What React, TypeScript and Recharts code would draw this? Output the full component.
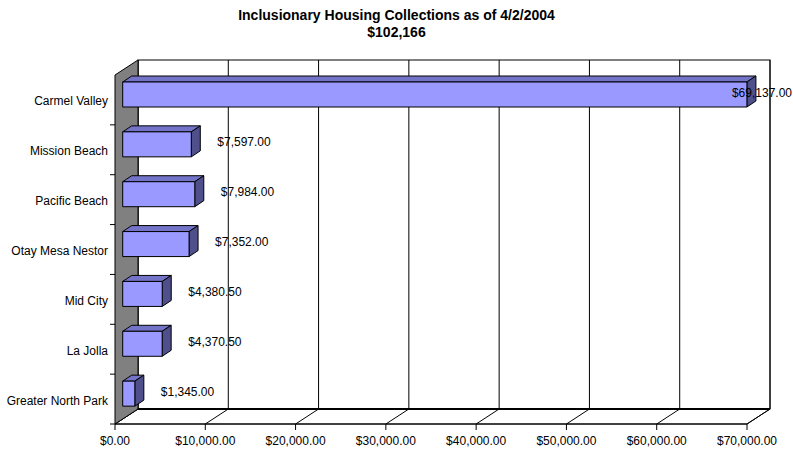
import { Bar, BarChart, CartesianGrid, LabelList, XAxis, YAxis } from "recharts";

const districts = [
  "Carmel Valley",
  "Mission Beach",
  "Pacific Beach",
  "Otay Mesa Nestor",
  "Mid City",
  "La Jolla",
  "Greater North Park",
];
const collections = [69137, 7597, 7984, 7352, 4380.5, 4370.5, 1345];
const xTicks = [0, 10000, 20000, 30000, 40000, 50000, 60000, 70000];

const data = districts.map((name, i) => ({ name, amount: collections[i] }));

const W = 793;
const H = 450;
const margin = { top: 75, right: 46, bottom: 6, left: 8 };
const Y_AXIS_W = 107;
const X_AXIS_H = 20;
// plot box (front plane)
const L = margin.left + Y_AXIS_W;
const R = W - margin.right;
const T = margin.top;
const B = H - margin.bottom - X_AXIS_H;
// depth of the 3d box
const DX = 23;
const DY = -15;
// bar placement inside the depth
const FX = 7.7;
const FY = -5;
const BDX = 9;
const BDY = -6;

const FONT = "'Liberation Sans', Arial, sans-serif";

const money = (v: number) =>
  "$" + v.toLocaleString("en-US", { minimumFractionDigits: 2, maximumFractionDigits: 2 });

function Bar3D(props: any) {
  const { x, y, width, height } = props;
  const x0 = x + FX;
  const y0 = y + FY;
  const x1 = x0 + width;
  return (
    <g stroke="#000" strokeWidth={1} strokeLinejoin="round">
      <polygon
        points={`${x0},${y0} ${x0 + BDX},${y0 + BDY} ${x1 + BDX},${y0 + BDY} ${x1},${y0}`}
        fill="#7373C8"
      />
      <polygon
        points={`${x1},${y0} ${x1 + BDX},${y0 + BDY} ${x1 + BDX},${y0 + BDY + height} ${x1},${y0 + height}`}
        fill="#4F4F8C"
      />
      <rect x={x0} y={y0} width={width} height={height} fill="#9999FF" />
    </g>
  );
}

function ValueLabel(props: any) {
  const { x, y, width, height, value } = props;
  let tx = x + FX + width + 26;
  let anchor: "start" | "end" = "start";
  if (tx + 58 > W) {
    tx = W - 1;
    anchor = "end";
  }
  return (
    <text
      x={tx}
      y={y + height / 2 - 7}
      textAnchor={anchor}
      dominantBaseline="central"
      fontSize={12}
      fontFamily={FONT}
      fill="#000"
    >
      {money(value)}
    </text>
  );
}

function GridLine(props: any) {
  const { x1 } = props;
  return (
    <g stroke="#000" strokeWidth={1}>
      <line x1={x1 + DX} y1={T + DY} x2={x1 + DX} y2={B + DY} />
      <line x1={x1} y1={B} x2={x1 + DX} y2={B + DY} />
    </g>
  );
}

function XTick(props: any) {
  const { x, payload } = props;
  return (
    <text
      x={x}
      y={B + 17}
      textAnchor="middle"
      dominantBaseline="central"
      fontSize={12}
      fontFamily={FONT}
      fill="#000"
    >
      {money(payload.value)}
    </text>
  );
}

function YTick(props: any) {
  const { y, payload } = props;
  const band = (B - T) / districts.length;
  return (
    <g>
      <line x1={L - 5} y1={y + band / 2} x2={L} y2={y + band / 2} stroke="#000" />
      <text
        x={L - 7}
        y={y + 1.5}
        textAnchor="end"
        dominantBaseline="central"
        fontSize={12}
        fontFamily={FONT}
        fill="#000"
      >
        {payload.value}
      </text>
    </g>
  );
}

export default function App() {
  return (
    <div style={{ position: "absolute", left: 0, top: 0, width: W, height: H, background: "#fff" }}>
      <BarChart width={W} height={H} data={data} layout="vertical" margin={margin}>
        <text
          x={W / 2}
          y={15}
          textAnchor="middle"
          dominantBaseline="central"
          fontSize={14}
          fontWeight="bold"
          fontFamily={FONT}
        >
          Inclusionary Housing Collections as of 4/2/2004
        </text>
        <text
          x={W / 2}
          y={32}
          textAnchor="middle"
          dominantBaseline="central"
          fontSize={14}
          fontWeight="bold"
          fontFamily={FONT}
        >
          $102,166
        </text>
        <CartesianGrid horizontal={false} vertical={GridLine} />
        <rect x={L + DX} y={T + DY} width={R - L} height={B - T} fill="none" stroke="#000" />
        <polygon
          points={`${L},${B} ${L + DX},${B + DY} ${R + DX},${B + DY} ${R},${B}`}
          fill="none"
          stroke="#000"
        />
        <line x1={L + DX} y1={B + DY} x2={R + DX} y2={B + DY} stroke="#000" strokeWidth={2} />
        <polygon
          points={`${L},${T} ${L + DX},${T + DY} ${L + DX},${B + DY} ${L},${B}`}
          fill="#808080"
          stroke="#000"
        />
        <XAxis
          type="number"
          domain={[0, 70000]}
          ticks={xTicks}
          interval={0}
          height={X_AXIS_H}
          tickSize={6}
          tickLine={{ stroke: "#000" }}
          axisLine={{ stroke: "#000" }}
          tick={<XTick />}
        />
        <YAxis
          type="category"
          dataKey="name"
          width={Y_AXIS_W}
          tickLine={false}
          axisLine={false}
          tick={<YTick />}
          interval={0}
        />
        <Bar dataKey="amount" barSize={25} shape={<Bar3D />} isAnimationActive={false}>
          <LabelList dataKey="amount" content={<ValueLabel />} />
        </Bar>
      </BarChart>
    </div>
  );
}
